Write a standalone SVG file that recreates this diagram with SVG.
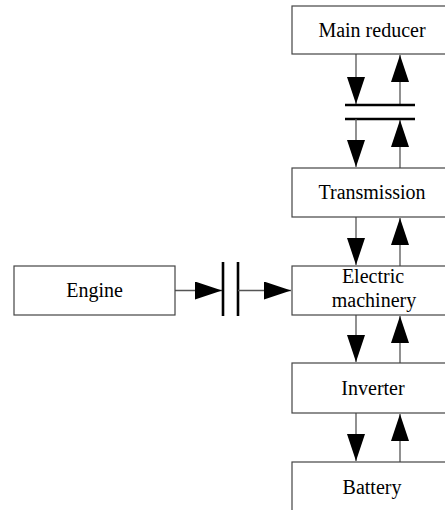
<svg xmlns="http://www.w3.org/2000/svg" width="445" height="510" viewBox="0 0 445 510">
<style>
.box{fill:#fff;stroke:#444;stroke-width:1.2}
.lbl{font-family:"Liberation Serif","Times New Roman",serif;font-size:20px;fill:#000;text-anchor:middle}
.ln{stroke:#555;stroke-width:1.3;fill:none}
.plate{stroke:#000;stroke-width:2.6;fill:none}
</style>
<defs>
<marker id="ah" viewBox="0 0 27 18" refX="27" refY="9" markerUnits="userSpaceOnUse" markerWidth="27" markerHeight="18" orient="auto">
<path d="M0,0 L27,9 L0,18 z" fill="#000"/>
</marker>
</defs>
<rect width="445" height="510" fill="#fff"/>
<g id="connectors">
<line class="ln" x1="356" y1="54" x2="356" y2="104" marker-end="url(#ah)"/>
<line class="ln" x1="400" y1="105" x2="400" y2="55" marker-end="url(#ah)"/>
<line class="plate" x1="345" y1="105" x2="415" y2="105"/>
<line class="plate" x1="345" y1="119" x2="415" y2="119"/>
<line class="ln" x1="356" y1="119" x2="356" y2="167" marker-end="url(#ah)"/>
<line class="ln" x1="400" y1="168" x2="400" y2="120" marker-end="url(#ah)"/>
<line class="ln" x1="356" y1="217" x2="356" y2="265" marker-end="url(#ah)"/>
<line class="ln" x1="400" y1="266" x2="400" y2="218" marker-end="url(#ah)"/>
<line class="ln" x1="356" y1="315" x2="356" y2="362" marker-end="url(#ah)"/>
<line class="ln" x1="400" y1="363" x2="400" y2="316" marker-end="url(#ah)"/>
<line class="ln" x1="356" y1="413" x2="356" y2="461" marker-end="url(#ah)"/>
<line class="ln" x1="400" y1="462" x2="400" y2="414" marker-end="url(#ah)"/>
<line class="ln" x1="175" y1="290.5" x2="222" y2="290.5" marker-end="url(#ah)"/>
<line class="plate" x1="223" y1="262" x2="223" y2="316"/>
<line class="plate" x1="238" y1="262" x2="238" y2="316"/>
<line class="ln" x1="238" y1="290.5" x2="291" y2="290.5" marker-end="url(#ah)"/>
</g>
<g id="main-reducer">
<rect class="box" x="292" y="6" width="160" height="48"/>
<text class="lbl" x="372" y="37">Main reducer</text>
</g>
<g id="transmission">
<rect class="box" x="292" y="168" width="160" height="49"/>
<text class="lbl" x="372" y="199">Transmission</text>
</g>
<g id="electric-machinery">
<rect class="box" x="292" y="266" width="160" height="49"/>
<text class="lbl" x="373" y="283">Electric</text>
<text class="lbl" x="374" y="307">machinery</text>
</g>
<g id="inverter">
<rect class="box" x="292" y="363" width="160" height="50"/>
<text class="lbl" x="373" y="395">Inverter</text>
</g>
<g id="battery">
<rect class="box" x="292" y="462" width="160" height="50"/>
<text class="lbl" x="372" y="494">Battery</text>
</g>
<g id="engine">
<rect class="box" x="14" y="266" width="161" height="49"/>
<text class="lbl" x="94.5" y="297">Engine</text>
</g>
</svg>
